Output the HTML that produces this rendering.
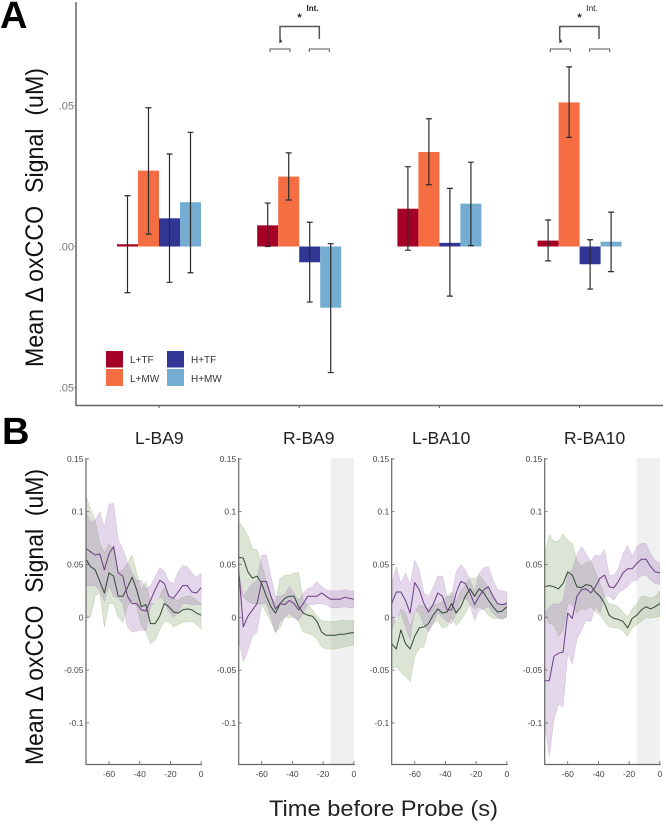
<!DOCTYPE html>
<html><head><meta charset="utf-8"><title>oxCCO signal chart</title>
<style>
html,body{margin:0;padding:0;background:#fff}
svg{display:block;font-family:"Liberation Sans",sans-serif;filter:blur(.3px)}
.sp{white-space:pre}
</style></head>
<body>
<svg id="fig" width="666" height="825" viewBox="0 0 666 825" xmlns="http://www.w3.org/2000/svg">
<rect width="666" height="825" fill="#fff"/>
<text x="0" y="28" font-size="38" font-weight="bold" fill="#000">A</text>
<text x="2" y="444" font-size="38" font-weight="bold" fill="#000">B</text>
<text class="sp" transform="translate(43,367) rotate(-90)" font-size="25" textLength="299" lengthAdjust="spacingAndGlyphs" fill="#111">Mean Δ oxCCO  Signal  (uM)</text>
<text class="sp" transform="translate(43,765) rotate(-90)" font-size="25" textLength="296" lengthAdjust="spacingAndGlyphs" fill="#111">Mean Δ oxCCO  Signal  (uM)</text>
<text x="269" y="816" font-size="22" textLength="229" lengthAdjust="spacingAndGlyphs" fill="#222">Time before Probe (s)</text>
<g id="bars"></g>
<g id="lines"></g>
<g fill="none" stroke="#555" stroke-width="1">
<path d="M280 40V26.5H319.3V39" stroke-width="1.5"/><path d="M270 52V49H290V52M309.3 52V49H329.3V52"/>
<path d="M559.7 40V26.5H599V39" stroke-width="1.5"/><path d="M550.3 52V49H570.3V52M589.7 52V49H609.7V52"/>
</g>
<g fill="#222" font-weight="bold" text-anchor="middle">
<text x="299.5" y="21" font-size="11">*</text><text x="280.5" y="46" font-size="9">*</text><text x="312.5" y="11" font-size="8">Int.</text>
<text x="579.5" y="21" font-size="11">*</text><text x="560.5" y="46" font-size="9">*</text><text x="592" y="11" font-size="8.5" font-weight="normal">Int.</text>
</g>
<g font-size="10" fill="#333">
<rect x="106" y="351" width="17" height="16.5" fill="#a50026"/>
<rect x="106" y="369" width="17" height="17" fill="#f46d43"/>
<rect x="167" y="351" width="17" height="16.5" fill="#313695"/>
<rect x="167" y="369" width="17" height="17" fill="#74add1"/>
<text x="130" y="363">L+TF</text>
<text x="130" y="382">L+MW</text>
<text x="191" y="363">H+TF</text>
<text x="191" y="382">H+MW</text>
</g>
</svg>
<script>
// Panel A data
const regions = ['L-BA9', 'R-BA9', 'L-BA10', 'R-BA10'];
const conditions = ['L+TF', 'L+MW', 'H+TF', 'H+MW'];
const barColors = ['#a50026', '#f46d43', '#313695', '#74add1'];
const barMeans = [
  [0.0008, 0.0269, 0.0100, 0.0157],
  [0.0075, 0.0248, -0.0056, -0.0217],
  [0.0134, 0.0335, 0.0013, 0.0152],
  [0.0021, 0.0511, -0.0063, 0.0017]
];
const errorHigh = [
  [0.0180, 0.0492, 0.0328, 0.0405],
  [0.0154, 0.0332, 0.0086, 0.0010],
  [0.0283, 0.0453, 0.0206, 0.0299],
  [0.0094, 0.0637, 0.0024, 0.0122]
];
const errorLow = [
  [-0.0164, 0.0044, -0.0127, -0.0093],
  [0.0000, 0.0165, -0.0197, -0.0447],
  [-0.0013, 0.0219, -0.0176, 0.0003],
  [-0.0051, 0.0387, -0.0151, -0.0089]
];
const barTickValues = [0.05, 0, -0.05];
const barTickLabels = ['.05', '.00', '.05'];

// Panel B data
const time = [-75,-72,-69,-66,-63,-60,-57,-54,-51,-48,-45,-42,-39,-36,-33,-30,-27,-24,-21,-18,-15,-12,-9,-6,-3,0];
const lineYTicks = [0.15, 0.1, 0.05, 0, -0.05, -0.1];
const lineYLabels = ['0.15', '0.1', '0.05', '0', '-0.05', '-0.1'];
const lineXTicks = [-60, -40, -20, 0];
const panelTitles = ['L-BA9', 'R-BA9', 'L-BA10', 'R-BA10'];
const shadedWindow = [null, [-15, 0], null, [-15, 0]];

const purpleMean = [
 [.065,.062,.059,.06,.045,.06,.067,.042,.039,.02,.013,.013,.007,.006,.016,.026,.035,.032,.02,.018,.024,.03,.03,.024,.023,.028],
 [.045,-.009,.001,.007,.013,.034,.034,.02,.008,.013,.012,.016,.013,.007,.013,.02,.02,.02,.023,.02,.017,.017,.017,.019,.018,.017],
 [.013,.024,.024,.016,.004,.033,.026,.013,.005,.012,.023,.02,.007,.007,.023,.034,.032,.023,.012,.02,.026,.029,.02,.013,.012,.013],
 [-.06,-.06,-.037,-.034,-.033,.004,-.001,.02,.026,.027,.023,.029,.037,.04,.029,.028,.034,.042,.046,.046,.051,.055,.055,.048,.043,.042]
];
const purpleUpper = [
 [.10,.09,.092,.10,.085,.107,.108,.073,.065,.052,.042,.035,.035,.027,.03,.038,.047,.044,.034,.032,.043,.049,.048,.042,.038,.042],
 [.042,.02,.026,.032,.035,.059,.059,.039,.02,.02,.022,.029,.023,.016,.023,.027,.029,.034,.029,.026,.025,.025,.025,.026,.025,.025],
 [.032,.048,.032,.042,.031,.054,.045,.023,.02,.028,.039,.039,.02,.02,.043,.05,.045,.035,.024,.042,.047,.048,.035,.026,.025,.024],
 [.004,.01,.013,.012,.016,.042,.045,.059,.067,.06,.053,.059,.058,.064,.04,.04,.046,.06,.068,.058,.067,.07,.07,.06,.054,.051]
];
const purpleLower = [
 [.03,.03,.03,.025,.015,.03,.02,.018,.013,-.009,-.014,-.013,-.012,-.013,.01,.015,.02,.015,.005,0,.005,.013,.013,.012,.012,.012],
 [-.021,-.042,-.031,-.018,-.014,.013,.013,0,-.015,-.004,0,.004,0,-.003,.004,.012,.012,.013,.013,.012,.009,.009,.009,.01,.009,.009],
 [-.012,0,.004,-.009,-.021,.007,.004,-.007,-.014,-.006,.004,0,-.004,-.006,.004,.016,.018,.012,-.003,.007,.008,.01,.004,0,-.002,0],
 [-.1,-.132,-.097,-.082,-.085,-.034,-.044,-.021,-.012,-.003,-.004,.01,.004,.02,.02,.016,.023,.026,.029,.034,.035,.04,.04,.035,.032,.031]
];
const greenMean = [
 [.055,.048,.045,.034,.023,.042,.039,.02,.02,.028,.038,.026,.01,.012,-.006,-.006,.001,.013,.01,.005,.004,.007,.008,.007,.004,.002],
 [.057,.056,.043,.037,.039,.032,.02,.01,.004,.013,.018,.02,.02,.01,.004,.002,.001,-.004,-.014,-.017,-.017,-.017,-.016,-.016,-.015,-.0145],
 [-.025,-.03,-.012,-.025,-.03,-.018,-.01,-.009,-.006,.002,.008,.004,.005,.013,.004,.01,.02,.027,.02,.027,.023,.016,.01,.005,.006,.01],
 [.029,.03,.029,.027,.032,.043,.04,.029,.028,.031,.03,.024,.02,.013,.002,-.001,-.002,-.004,-.01,-.001,.002,.007,.01,.008,.01,.013]
];
const greenUpper = [
 [.115,.102,.092,.07,.061,.07,.064,.043,.045,.051,.059,.042,.026,.034,.013,.013,.02,.028,.018,.017,.016,.019,.02,.02,.016,.013],
 [.091,.085,.077,.065,.064,.05,.035,.02,.013,.037,.04,.04,.042,.042,.016,.012,.007,.001,-.003,-.004,-.004,-.004,-.003,-.003,-.003,-.003],
 [0,-.005,.008,.005,-.01,.005,.012,.01,.008,.012,.012,.015,.02,.024,.015,.025,.03,.037,.037,.04,.035,.028,.018,.012,.012,.015],
 [.059,.078,.072,.072,.079,.073,.07,.054,.048,.052,.053,.043,.032,.02,.013,.012,.01,.005,0,.008,.013,.02,.02,.018,.02,.025]
];
const greenLower = [
 [.001,0,.02,.023,-.009,.013,.013,0,-.005,.01,.016,.01,-.007,-.014,-.025,-.022,-.012,-.004,-.004,-.009,-.007,-.005,-.004,-.004,-.007,-.011],
 [.026,.02,.015,.013,.013,.013,.004,-.004,-.014,-.01,0,0,0,-.004,-.014,-.015,-.017,-.021,-.028,-.03,-.03,-.03,-.029,-.028,-.027,-.026],
 [-.048,-.047,-.052,-.056,-.061,-.037,-.029,-.028,-.012,-.006,-.003,-.01,-.009,0,-.008,-.003,.004,.012,.008,.01,.007,.002,-.001,-.001,-.001,0],
 [.002,-.006,-.007,-.018,-.012,.013,.012,.004,.008,.007,.01,.005,.002,-.004,-.009,-.01,-.01,-.013,-.018,-.01,-.007,-.004,0,-.001,0,.001]
];

const SVGNS = 'http://www.w3.org/2000/svg';
function mk(tag, parent, attrs) {
  const el = document.createElementNS(SVGNS, tag);
  for (const k in attrs) el.setAttribute(k, attrs[k]);
  parent.appendChild(el);
  return el;
}

// ---- Panel A ----
const barsG = document.getElementById('bars');
const barY = v => 246.5 - v * 2820;
const groupX = i => 159 + i * 140.2;
const barW = 21;

regions.forEach((region, g) => {
  conditions.forEach((cond, c) => {
    const left = groupX(g) + (c - 2) * barW;
    const y0 = barY(0), y1 = barY(barMeans[g][c]);
    const bar = mk('rect', barsG, {x: left, y: Math.min(y0, y1), width: barW, height: Math.abs(y1 - y0), fill: barColors[c]});
    
    
  });
});
regions.forEach((region, g) => {
  conditions.forEach((cond, c) => {
    const cx = groupX(g) + (c - 2) * barW + barW / 2;
    const hi = barY(errorHigh[g][c]), lo = barY(errorLow[g][c]);
    const err = mk('path', barsG, {d: `M${cx-3} ${hi}H${cx+3}M${cx} ${hi}V${lo}M${cx-3} ${lo}H${cx+3}`, fill: 'none', stroke: '#2b2b2b', 'stroke-width': 1.2});
    
    
  });
  const tick = mk('line', barsG, {x1: groupX(g), x2: groupX(g), y1: 405, y2: 408, stroke: '#555', 'stroke-width': 1});
  
  
});
const axA = mk('path', barsG, {d: 'M76 2V405.5H663', fill: 'none', stroke: '#666', 'stroke-width': 1.5});


barTickValues.forEach((v, i) => {
  const tk = mk('line', barsG, {x1: 74.5, x2: 76, y1: barY(v), y2: barY(v), stroke: '#666', 'stroke-width': 1});
  
  
  const lb = mk('text', barsG, {x: 74, y: barY(v) + 3.8, 'font-size': 11, 'text-anchor': 'end', fill: '#777'});
  lb.textContent = barTickLabels[i];
  
  
});

// ---- Panel B ----
const linesG = document.getElementById('lines');
const axisXs = [86, 238.7, 391.7, 544.7];
const lineY = v => 617.3 - v * 1056;
const titleXs = [135, 283, 412, 564];

function band(g, xf, up, lo, fill, edge, name, op) {
  let d = time.map((t, i) => (i ? 'L' : 'M') + xf(t).toFixed(1) + ' ' + lineY(up[i]).toFixed(1)).join('');
  for (let i = time.length - 1; i >= 0; i--) d += 'L' + xf(time[i]).toFixed(1) + ' ' + lineY(lo[i]).toFixed(1);
  const p = mk('path', g, {d: d + 'Z', fill: fill, 'fill-opacity': op, stroke: edge, 'stroke-width': 0.5, 'stroke-opacity': 0.5});
  
  
}
function meanLine(g, xf, vals, color, name) {
  const d = time.map((t, i) => (i ? 'L' : 'M') + xf(t).toFixed(1) + ' ' + lineY(vals[i]).toFixed(1)).join('');
  const p = mk('path', g, {d: d, fill: 'none', stroke: color, 'stroke-width': 1, 'stroke-linejoin': 'round'});
  
  
}

panelTitles.forEach((title, p) => {
  const ax = axisXs[p];
  const xf = t => ax + (t + 75) * 1.535;
  const g = mk('g', linesG, {});
  
  

  const tt = mk('text', g, {x: titleXs[p], y: 444, 'font-size': 17.5, fill: '#222'});
  tt.textContent = title;
  
  

  if (shadedWindow[p]) {
    const w = shadedWindow[p];
    const r = mk('rect', g, {x: xf(w[0]), y: 458, width: xf(w[1]) - xf(w[0]), height: 306, fill: '#f0f0f0'});
    
    
  }
  band(g, xf, greenUpper[p], greenLower[p], '#7ea062', '#8fa860', 'green-band', 0.27);
  band(g, xf, purpleUpper[p], purpleLower[p], '#9c6cb4', '#a98abb', 'purple-band', 0.27);
  meanLine(g, xf, greenMean[p], '#2f4a33', 'green-mean-line');
  meanLine(g, xf, purpleMean[p], '#6a3d82', 'purple-mean-line');

  const axis = mk('path', g, {d: `M${ax} 458V764.5H${ax + 116}`, fill: 'none', stroke: '#666', 'stroke-width': 1.2});
  
  

  lineYTicks.forEach((v, i) => {
    const tk = mk('line', g, {x1: ax, x2: ax + 3, y1: lineY(v), y2: lineY(v), stroke: '#666', 'stroke-width': 0.8});
    
    
    const lb = mk('text', g, {x: ax - 2.5, y: lineY(v) + 3, 'font-size': 8.5, 'text-anchor': 'end', fill: '#444'});
    lb.textContent = lineYLabels[i];
    
    
  });
  lineXTicks.forEach(t => {
    const tk = mk('line', g, {x1: xf(t), x2: xf(t), y1: 764, y2: 761, stroke: '#666', 'stroke-width': 0.8});
    
    
    const lb = mk('text', g, {x: xf(t), y: 777, 'font-size': 8.5, 'text-anchor': 'middle', fill: '#444'});
    lb.textContent = String(t);
    
    
  });
});
</script>
</body></html>
